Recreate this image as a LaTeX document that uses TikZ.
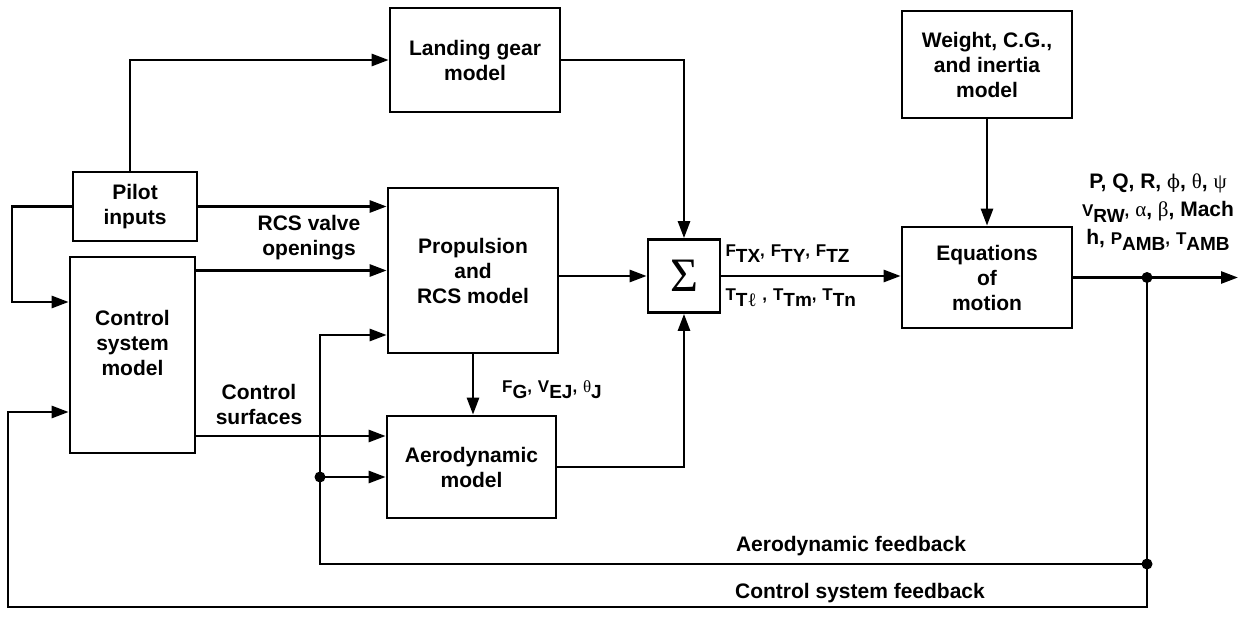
\documentclass[tikz,border=0pt]{standalone}
\usepackage{fontspec}
\setmainfont{Liberation Sans}
\newfontfamily\grk{Liberation Serif}
\newfontfamily\grkb{DejaVu Serif}
\usetikzlibrary{arrows.meta,calc}
\newcommand\subx[2]{{\fontsize{17}{17}\selectfont #1}\raisebox{-6pt}{\fontsize{19}{19}\selectfont #2}}
\newcommand\cm{{\fontsize{17}{17}\selectfont ,}}
\begin{document}
\begin{tikzpicture}[x=1pt,y=-1pt,
  every node/.style={font=\fontsize{21}{25}\selectfont\bfseries},
  blk/.style={draw,line width=2.7pt,align=center,inner sep=0pt},
  conn/.style={line width=2.7pt},
  arr/.style={conn,-{Triangle[length=17pt,width=12pt]}},
  lbl/.style={align=center},
  dot/.style={circle,fill,inner sep=0pt,minimum size=11pt}]
\useasboundingbox (0,0) rectangle (1249,620);
% blocks
\node[blk,minimum width=170pt,minimum height=104pt] (lg) at (475,60) {Landing gear\\model};
\node[blk,minimum width=170pt,minimum height=107pt] (wt) at (987,64.5) {Weight, C.G.,\\and inertia\\model};
\node[blk,minimum width=124pt,minimum height=69pt] (pil) at (135,206.5) {Pilot\\inputs};
\node[blk,minimum width=125pt,minimum height=196pt] (css) at (132.5,355) {};
\node[lbl] (csst) at (132.5,343) {Control\\system\\model};
\node[blk,minimum width=170pt,minimum height=165pt] (prop) at (473,270.5) {Propulsion\\and\\RCS model};
\node[blk,minimum width=169pt,minimum height=102pt] (aero) at (471.5,467) {Aerodynamic\\model};
\node[blk,minimum width=72pt,minimum height=73pt] (sig) at (684,276) {\grk\mdseries\fontsize{48}{48}\selectfont Σ};
\node[blk,minimum width=170pt,minimum height=101pt] (eom) at (987,277.5) {Equations\\of\\motion};
% helper coordinates
\coordinate (xA) at (130,0);
\coordinate (ll) at (12,302);
\coordinate (cs) at (0,436);
\coordinate (fb) at (320,335);
\coordinate (j3) at (320,477);
\coordinate (j1) at (1147,277.5);
\coordinate (j2) at (1147,564);
\coordinate (out) at (1238,277.5);
\coordinate (bl) at (8,607);
\coordinate (cfb) at (0,412);
% connectors
\draw[arr] (pil.north -| xA) |- (lg.west);
\draw[arr] (lg.east) -| (sig.north);
\draw[arr] (wt.south) -- (eom.north);
\draw[arr] (pil.west) -| (ll) -- (ll -| css.west);
\draw[arr] (pil.east) -- (pil.east -| prop.west);
\draw[arr] (css.east |- prop.west) -- (prop.west);
\draw[arr] (css.east |- cs) -- (aero.west |- cs);
\draw[arr] (prop.south) -- (prop.south |- aero.north);
\draw[arr] (prop.east |- sig.west) -- (sig.west);
\draw[arr] (aero.east) -| (sig.south);
\draw[arr] (sig.east) -- (sig.east -| eom.west);
\draw[arr] (eom.east) -- (out);
\draw[arr] (j1) |- (bl) |- (css.west |- cfb);
\draw[arr] (j2) -| (fb) -- (fb -| prop.west);
\draw[arr] (j3) -- (j3 -| aero.west);
\node[dot] (d1) at (j1) {};
\node[dot] (d2) at (j2) {};
\node[dot] (d3) at (j3) {};
% labels
\node[lbl] (t1) at (309,238) {RCS valve\\openings};
\node[lbl] (t2) at (259,404) {Control\\surfaces};
\node (t3) at (552,390) {\subx{F}{G}\cm{} \subx{V}{EJ}\cm{} \subx{\grk\mdseries θ}{J}};
\node[anchor=west] (t4) at (722,254) {\subx{F}{TX}\cm{} \subx{F}{TY}\cm{} \subx{F}{TZ}};
\node[anchor=west] (t5) at (722,298) {\subx{T}{T{\grk\mdseries ℓ}} \cm{} \subx{T}{Tm}\cm{} \subx{T}{Tn}};
\node[lbl,font=\fontsize{21}{28}\selectfont\bfseries] (t6) at (1158,212) {P, Q, R, {\grkb\mdseries\fontsize{19}{19}\selectfont ϕ}, {\grk\mdseries θ}, {\grk\mdseries ψ}\\ \subx{V}{RW}\cm{} {\grk\mdseries α}, {\grk\mdseries β}, Mach\\ h, \subx{P}{AMB}\cm{} \subx{T}{AMB}};
\node (t7) at (851,546) {Aerodynamic feedback};
\node (t8) at (860,593) {Control system feedback};
\end{tikzpicture}
\end{document}
